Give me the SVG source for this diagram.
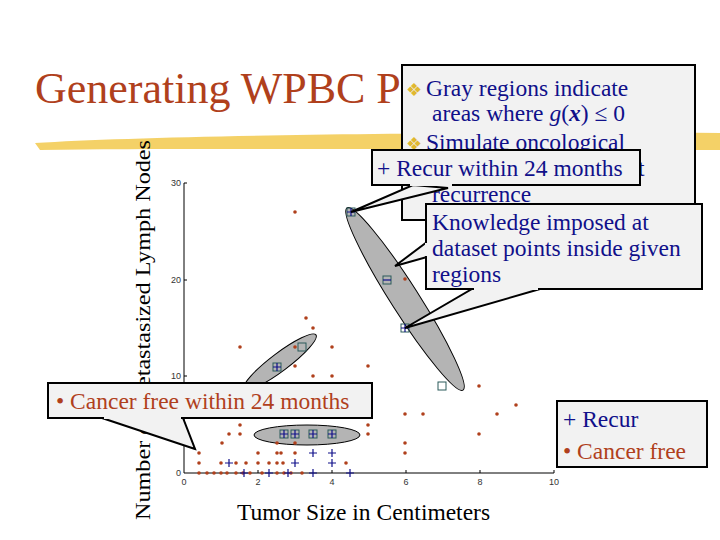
<svg xmlns="http://www.w3.org/2000/svg" width="720" height="540" viewBox="0 0 720 540">
<defs>
<style>
.s{font-family:"Liberation Serif","Times New Roman",serif}
.nv{fill:#10108a}
.br{fill:#b0401c}
.box{fill:#f2f2f2;stroke:#000;stroke-width:2}
.tk{font-family:"Liberation Sans",sans-serif;font-size:9px;fill:#333}
.reg{fill:#b4b4b4;stroke:#000;stroke-width:1}
.p{fill:#b0401c}
.x{stroke:#10108a;stroke-width:1.2;fill:none}
.sv{fill:none;stroke:#2a5a5a;stroke-width:1}
</style>
</defs>
<rect width="720" height="540" fill="#fff"/>
<path d="M35,143 C150,136 400,132 720,133 L720,150 C450,150 200,148 40,150 Z" fill="#f2c94c" opacity="0.85"/>
<text class="s br" x="35" y="103" font-size="44">Generating WPBC P</text>
<text class="s" x="150" y="330" font-size="22" text-anchor="middle" transform="rotate(-90 150 330)" textLength="380" lengthAdjust="spacingAndGlyphs">Number of Metastasized Lymph Nodes</text>
<text class="s" x="237" y="520" font-size="23.5">Tumor Size in Centimeters</text>
<g id="plot">
<path d="M184,183V473H554M184,183h3M184,280h3M184,376h3M258,473v-3M332,473v-3M406,473v-3M480,473v-3M554,473v-3" stroke="#000" fill="none"/>
<g class="tk" text-anchor="end"><text x="181" y="186">30</text><text x="181" y="283">20</text><text x="181" y="379">10</text><text x="181" y="476">0</text></g>
<g class="tk" text-anchor="middle"><text x="184" y="485">0</text><text x="258" y="485">2</text><text x="332" y="485">4</text><text x="406" y="485">6</text><text x="480" y="485">8</text><text x="554" y="485">10</text></g>
<ellipse class="reg" cx="405" cy="299" rx="108" ry="14" transform="rotate(57.5 405 299)"/>
<ellipse class="reg" cx="280" cy="362" rx="45" ry="9" transform="rotate(-37 280 362)"/>
<ellipse class="reg" cx="307" cy="435" rx="53" ry="10"/>
<g class="p">
<circle cx="295" cy="212" r="1.8"/><circle cx="405" cy="279" r="1.8"/><circle cx="306" cy="318" r="1.8"/><circle cx="313" cy="328" r="1.8"/><circle cx="240" cy="347" r="1.8"/><circle cx="295" cy="347" r="1.8"/><circle cx="332" cy="347" r="1.8"/><circle cx="295" cy="366" r="1.8"/><circle cx="313" cy="376" r="1.8"/><circle cx="332" cy="376" r="1.8"/><circle cx="368" cy="366" r="1.8"/><circle cx="405" cy="414" r="1.8"/><circle cx="423" cy="414" r="1.8"/><circle cx="479" cy="386" r="1.8"/><circle cx="516" cy="405" r="1.8"/><circle cx="497" cy="414" r="1.8"/><circle cx="479" cy="434" r="1.8"/><circle cx="405" cy="443" r="1.8"/><circle cx="405" cy="453" r="1.8"/><circle cx="368" cy="425" r="1.8"/><circle cx="368" cy="434" r="1.8"/><circle cx="240" cy="425" r="1.8"/><circle cx="229" cy="434" r="1.8"/><circle cx="240" cy="434" r="1.8"/><circle cx="222" cy="443" r="1.8"/><circle cx="277" cy="443" r="1.8"/><circle cx="295" cy="443" r="1.8"/>
<circle cx="199" cy="453" r="1.8"/><circle cx="258" cy="453" r="1.8"/><circle cx="277" cy="453" r="1.8"/><circle cx="281" cy="453" r="1.8"/><circle cx="295" cy="453" r="1.8"/>
<circle cx="199" cy="463" r="1.8"/><circle cx="221" cy="463" r="1.8"/><circle cx="236" cy="463" r="1.8"/><circle cx="246" cy="463" r="1.8"/><circle cx="258" cy="463" r="1.8"/><circle cx="269" cy="463" r="1.8"/><circle cx="277" cy="463" r="1.8"/><circle cx="283" cy="463" r="1.8"/><circle cx="346" cy="463" r="1.8"/>
<circle cx="199" cy="473" r="1.8"/><circle cx="207" cy="473" r="1.8"/><circle cx="214" cy="473" r="1.8"/><circle cx="221" cy="473" r="1.8"/><circle cx="227" cy="473" r="1.8"/><circle cx="236" cy="473" r="1.8"/><circle cx="243" cy="473" r="1.8"/><circle cx="250" cy="473" r="1.8"/><circle cx="262" cy="473" r="1.8"/><circle cx="277" cy="473" r="1.8"/><circle cx="284" cy="473" r="1.8"/><circle cx="291" cy="473" r="1.8"/><circle cx="302" cy="473" r="1.8"/>
</g>
<path class="x" d="M309,453h8M313,449v8M328,453h8M332,449v8M291,463h8M295,459v8M328,463h8M332,459v8M225,463h8M229,459v8M265,473h8M269,469v8M309,473h8M313,469v8M346,473h8M350,469v8M284,473h8M288,469v8M240,473h8M244,469v8"/>
<g>
<rect class="sv" x="347" y="208" width="8" height="8"/><path class="x" d="M347,212h8M351,208v8"/>
<rect class="sv" x="383" y="276" width="8" height="8"/><path class="x" d="M383,280h8"/>
<rect class="sv" x="401" y="324" width="8" height="8"/><path class="x" d="M401,328h8M405,324v8"/>
<rect class="sv" x="438" y="382" width="8" height="8"/>
<rect class="sv" x="298" y="343" width="8" height="8"/>
<rect class="sv" x="273" y="363" width="8" height="8"/><path class="x" d="M273,367h8M277,363v8"/>
<rect class="sv" x="280" y="430" width="8" height="8"/><path class="x" d="M280,434h8M284,430v8"/>
<rect class="sv" x="291" y="430" width="8" height="8"/><path class="x" d="M291,434h8M295,430v8"/>
<rect class="sv" x="309" y="430" width="8" height="8"/><path class="x" d="M309,434h8M313,430v8"/>
<rect class="sv" x="328" y="430" width="8" height="8"/><path class="x" d="M328,434h8M332,430v8"/>
</g>
</g>
<g id="main-note">
<rect class="box" x="402" y="65" width="293" height="155"/>
<g class="s" font-size="23.5">
<text x="406" y="96" fill="#e0b830" font-size="18">❖</text><text class="nv" x="426" y="96">Gray regions indicate</text>
<text class="nv" x="432" y="121">areas where <tspan font-style="italic">g</tspan>(<tspan font-weight="bold" font-style="italic">x</tspan>) ≤ 0</text>
<text x="406" y="150" fill="#e0b830" font-size="18">❖</text><text class="nv" x="426" y="150">Simulate oncological</text>
<text class="nv" x="432" y="176">surgeon's advice about</text>
<text class="nv" x="432" y="202">recurrence</text>
</g>
</g>
<g id="connectors">
<polygon points="351,212 413,185 448,188" fill="#f2f2f2" stroke="#000" stroke-width="2"/>
<polygon points="395,266 427,242 427,257" fill="#f2f2f2" stroke="#000" stroke-width="2"/>
<polygon points="405,328 472,289 540,289" fill="#f2f2f2" stroke="#000" stroke-width="2"/>
<polygon points="195,449 102,418 183,418" fill="#f2f2f2" stroke="#000" stroke-width="2"/>
</g>
<g id="recur-note">
<rect class="box" x="372" y="150" width="268" height="35"/>
<line x1="410" y1="185" x2="452" y2="185" stroke="#f2f2f2" stroke-width="2"/>
<text class="s nv" x="377" y="176" font-size="23.5">+ Recur within 24 months</text>
</g>
<g id="knowledge-note">
<rect class="box" x="426" y="204" width="276" height="85"/>
<line x1="426" y1="243" x2="426" y2="256" stroke="#f2f2f2" stroke-width="2"/>
<line x1="474" y1="289" x2="538" y2="289" stroke="#f2f2f2" stroke-width="2"/>
<g class="s nv" font-size="23.5"><text x="432" y="230">Knowledge imposed at</text><text x="432" y="256">dataset points inside given</text><text x="432" y="282">regions</text></g>
</g>
<g id="cancer-note">
<rect class="box" x="48" y="383" width="324" height="35"/>
<line x1="104" y1="418" x2="181" y2="418" stroke="#f2f2f2" stroke-width="2"/>
<text class="s br" x="56" y="409" font-size="23.5">•  Cancer free within 24 months</text>
</g>
<g id="legend">
<rect class="box" x="557" y="401" width="150" height="66"/>
<text class="s nv" x="563" y="427" font-size="23.5">+ Recur</text>
<text class="s br" x="563" y="459" font-size="23.5">•  Cancer free</text>
</g>
</svg>
